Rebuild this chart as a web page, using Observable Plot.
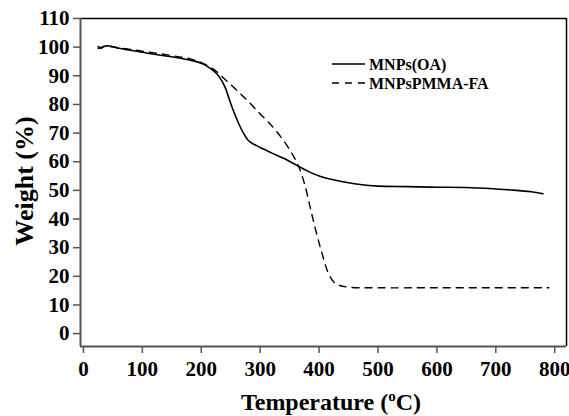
<!DOCTYPE html>
<html>
<head>
<meta charset="utf-8">
<script src="https://cdn.jsdelivr.net/npm/d3@7"></script>
<script src="https://cdn.jsdelivr.net/npm/@observablehq/plot@0.6"></script>
<style>
  html, body { margin: 0; padding: 0; background: #fff; }
  svg { display: block; }
</style>
</head>
<body>
<div id="chart"></div>
<script>
const seriesNames = ["MNPs(OA)", "MNPsPMMA-FA"];

const oaTemp =   [25, 30, 35, 45, 60, 80, 100, 120, 140, 160, 180, 200, 210, 220, 230, 240, 250, 260, 270, 280, 290, 300, 320, 340, 360, 380, 400, 420, 440, 460, 480, 500, 550, 600, 650, 700, 730, 760, 780];
const oaWeight = [100.2, 99.6, 100.3, 100.4, 99.6, 98.9, 98.2, 97.5, 96.9, 96.3, 95.5, 94.4, 93.3, 91.9, 89.8, 86.2, 80.3, 75.0, 70.6, 67.4, 66.0, 65.0, 63.0, 61.2, 59.0, 56.8, 55.0, 53.9, 53.0, 52.3, 51.8, 51.5, 51.3, 51.1, 51.0, 50.5, 50.1, 49.5, 48.8];

const faTemp =   [25, 30, 40, 60, 80, 100, 120, 140, 160, 180, 200, 220, 240, 260, 280, 300, 320, 340, 355, 365, 375, 385, 395, 405, 415, 425, 435, 450, 500, 600, 700, 790];
const faWeight = [99.5, 100.0, 100.2, 99.8, 99.2, 98.6, 98.0, 97.4, 96.7, 96.0, 94.6, 92.4, 88.8, 85.0, 81.0, 76.7, 72.5, 67.3, 62.5, 58.5, 52.5, 44.0, 35.5, 28.0, 21.5, 18.0, 16.8, 16.2, 16.0, 16.0, 16.0, 16.0];

const xTicks = [0, 100, 200, 300, 400, 500, 600, 700, 800];
const yTicks = [0, 10, 20, 30, 40, 50, 60, 70, 80, 90, 100, 110];

const oa = oaTemp.map((t, i) => ({t, w: oaWeight[i]}));
const fa = faTemp.map((t, i) => ({t, w: faWeight[i]}));

const W = 569, H = 416;
const font = "'Liberation Serif', 'Times New Roman', serif";
const axisGray = "#555";

const plot = Plot.plot({
  width: W,
  height: H,
  marginLeft: 80,
  marginRight: 3,
  marginTop: 18,
  marginBottom: 70,
  style: {fontFamily: font, background: "#fff", color: "#000"},
  x: {domain: [-5, 820]},
  y: {domain: [-4.5, 110]},
  marks: [
    Plot.line(oa, {x: "t", y: "w", stroke: "#000", strokeWidth: 1.6, curve: "catmull-rom"}),
    Plot.line(fa, {x: "t", y: "w", stroke: "#000", strokeWidth: 1.4, strokeDasharray: "7,6", curve: "catmull-rom"}),
    Plot.ruleY([110], {stroke: "#000", strokeWidth: 1.5}),
    Plot.ruleX([820], {stroke: "#000", strokeWidth: 1.5}),
    Plot.ruleX([-5], {stroke: axisGray, strokeWidth: 2}),
    Plot.ruleY([-4.5], {stroke: axisGray, strokeWidth: 2.2}),
    Plot.axisX({ticks: xTicks, tickSize: 7, tickPadding: 8, stroke: axisGray, strokeWidth: 1.5,
      fontSize: 21, fontWeight: "bold", fill: "#000", label: null, tickFormat: d => String(d)}),
    Plot.axisY({ticks: yTicks, tickSize: 7, tickPadding: 4, stroke: axisGray, strokeWidth: 1.5,
      fontSize: 21, fontWeight: "bold", fill: "#000", label: null, tickFormat: d => String(d)})
  ]
});

document.getElementById("chart").appendChild(plot);

const svg = d3.select(plot);

// X axis title with superscript
const xt = svg.append("text")
  .attr("x", 331).attr("y", 410)
  .attr("text-anchor", "middle")
  .attr("font-family", font).attr("font-weight", "bold").attr("font-size", 24)
  .attr("fill", "#000");
xt.append("tspan").text("Temperature (");
xt.append("tspan").attr("dy", -9).attr("font-size", 15).text("o");
xt.append("tspan").attr("dy", 9).text("C)");

// Y axis title
svg.append("text")
  .attr("transform", "translate(33,181) rotate(-90)")
  .attr("text-anchor", "middle")
  .attr("font-family", font).attr("font-weight", "bold").attr("font-size", 26)
  .attr("fill", "#000")
  .text("Weight (%)");

// Legend
const legend = svg.append("g").attr("font-family", font).attr("font-weight", "bold")
  .attr("font-size", 16).attr("text-anchor", "start");
[[seriesNames[0], null, 64], [seriesNames[1], "7,6", 83]].forEach(([name, dash, y]) => {
  legend.append("line").attr("x1", 332).attr("x2", 365).attr("y1", y).attr("y2", y)
    .attr("stroke", "#000").attr("stroke-width", 1.6).attr("stroke-dasharray", dash);
  legend.append("text").attr("x", 369).attr("y", y + 5.5).attr("fill", "#000")
    .attr("text-anchor", "start").text(name);
});
</script>
</body>
</html>
